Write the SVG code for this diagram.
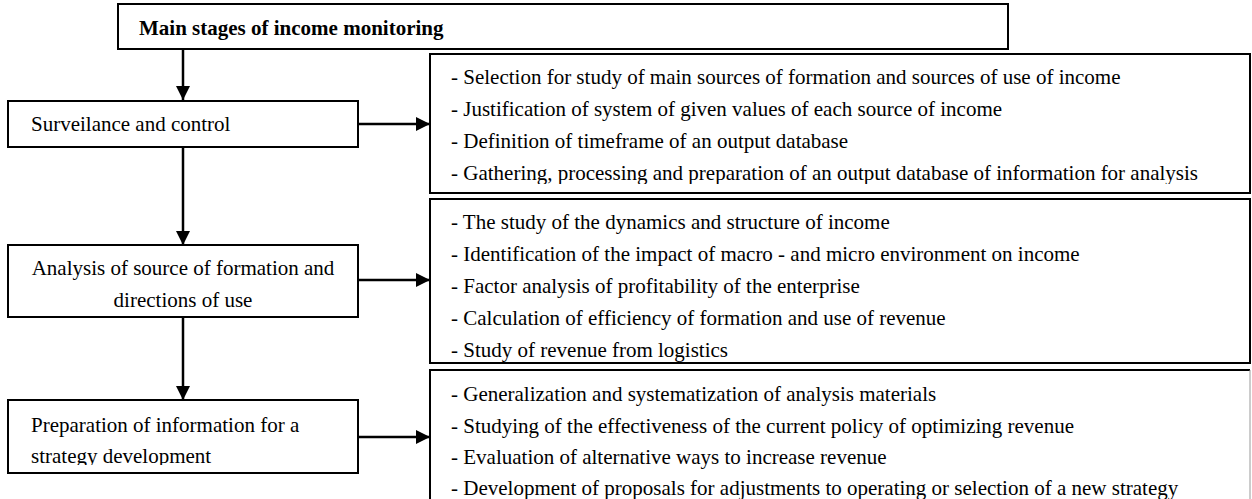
<svg xmlns="http://www.w3.org/2000/svg" width="1252" height="499" viewBox="0 0 1252 499">
<style>
.box{fill:#fff;stroke:#000;stroke-width:2}
.t{font-family:"Liberation Serif","Times New Roman",serif;font-size:21px;fill:#000}
.b{font-weight:bold}
.ln{stroke:#000;stroke-width:2.5;fill:none}
</style>
<defs>
<marker id="ah" viewBox="0 0 10 10" refX="10" refY="5" markerWidth="14" markerHeight="14" markerUnits="userSpaceOnUse" orient="auto">
<path d="M0,0 L10,5 L0,10 Z" fill="#000"/>
</marker>
<clipPath id="c1"><rect x="430" y="54" width="822" height="130"/></clipPath>
<clipPath id="c4"><rect x="8" y="400" width="350" height="65"/></clipPath>
</defs>
<rect width="1252" height="499" fill="#fff"/>
<g id="connectors">
<line class="ln" x1="183" y1="49" x2="183" y2="100" marker-end="url(#ah)"/>
<line class="ln" x1="183" y1="147" x2="183" y2="245" marker-end="url(#ah)"/>
<line class="ln" x1="183" y1="317" x2="183" y2="400" marker-end="url(#ah)"/>
<line class="ln" x1="358" y1="124" x2="430" y2="124" marker-end="url(#ah)"/>
<line class="ln" x1="358" y1="280" x2="430" y2="280" marker-end="url(#ah)"/>
<line class="ln" x1="358" y1="437" x2="430" y2="437" marker-end="url(#ah)"/>
</g>
<g id="main">
<rect class="box" x="118" y="4" width="890" height="45"/>
<text class="t b" x="139" y="35">Main stages of income monitoring</text>
</g>
<g id="surveillance">
<rect class="box" x="8" y="101" width="350" height="46"/>
<text class="t" x="31" y="131">Surveilance and control</text>
</g>
<g id="analysis">
<rect class="box" x="8" y="245" width="350" height="72"/>
<text class="t" x="183" y="275" text-anchor="middle">Analysis of source of formation and</text>
<text class="t" x="183" y="307" text-anchor="middle">directions of use</text>
</g>
<g id="preparation">
<rect class="box" x="8" y="400" width="350" height="73"/>
<g clip-path="url(#c4)">
<text class="t" x="31" y="432">Preparation of information for a</text>
<text class="t" x="31" y="463">strategy development</text>
</g>
</g>
<g id="details1">
<rect class="box" x="430" y="54" width="820" height="139"/>
<g clip-path="url(#c1)">
<text class="t" x="451" y="84">- Selection for study of main sources of formation and sources of use of income</text>
<text class="t" x="451" y="116">- Justification of system of given values of each source of income</text>
<text class="t" x="451" y="148">- Definition of timeframe of an output database</text>
<text class="t" x="451" y="180">- Gathering, processing and preparation of an output database of information for analysis</text>
</g>
</g>
<g id="details2">
<rect class="box" x="430" y="199" width="820" height="164"/>
<text class="t" x="451" y="229">- The study of the dynamics and structure of income</text>
<text class="t" x="451" y="261">- Identification of the impact of macro - and micro environment on income</text>
<text class="t" x="451" y="293">- Factor analysis of profitability of the enterprise</text>
<text class="t" x="451" y="325">- Calculation of efficiency of formation and use of revenue</text>
<text class="t" x="451" y="357">- Study of revenue from logistics</text>
</g>
<g id="details3">
<path d="M430,510 V370 H1250" fill="none" stroke="#000" stroke-width="2"/>
<path d="M1250,370 V510" fill="none" stroke="#999" stroke-width="1"/>
<text class="t" x="451" y="401">- Generalization and systematization of analysis materials</text>
<text class="t" x="451" y="433">- Studying of the effectiveness of the current policy of optimizing revenue</text>
<text class="t" x="451" y="464">- Evaluation of alternative ways to increase revenue</text>
<text class="t" x="451" y="495">- Development of proposals for adjustments to operating or selection of a new strategy</text>
</g>
</svg>
